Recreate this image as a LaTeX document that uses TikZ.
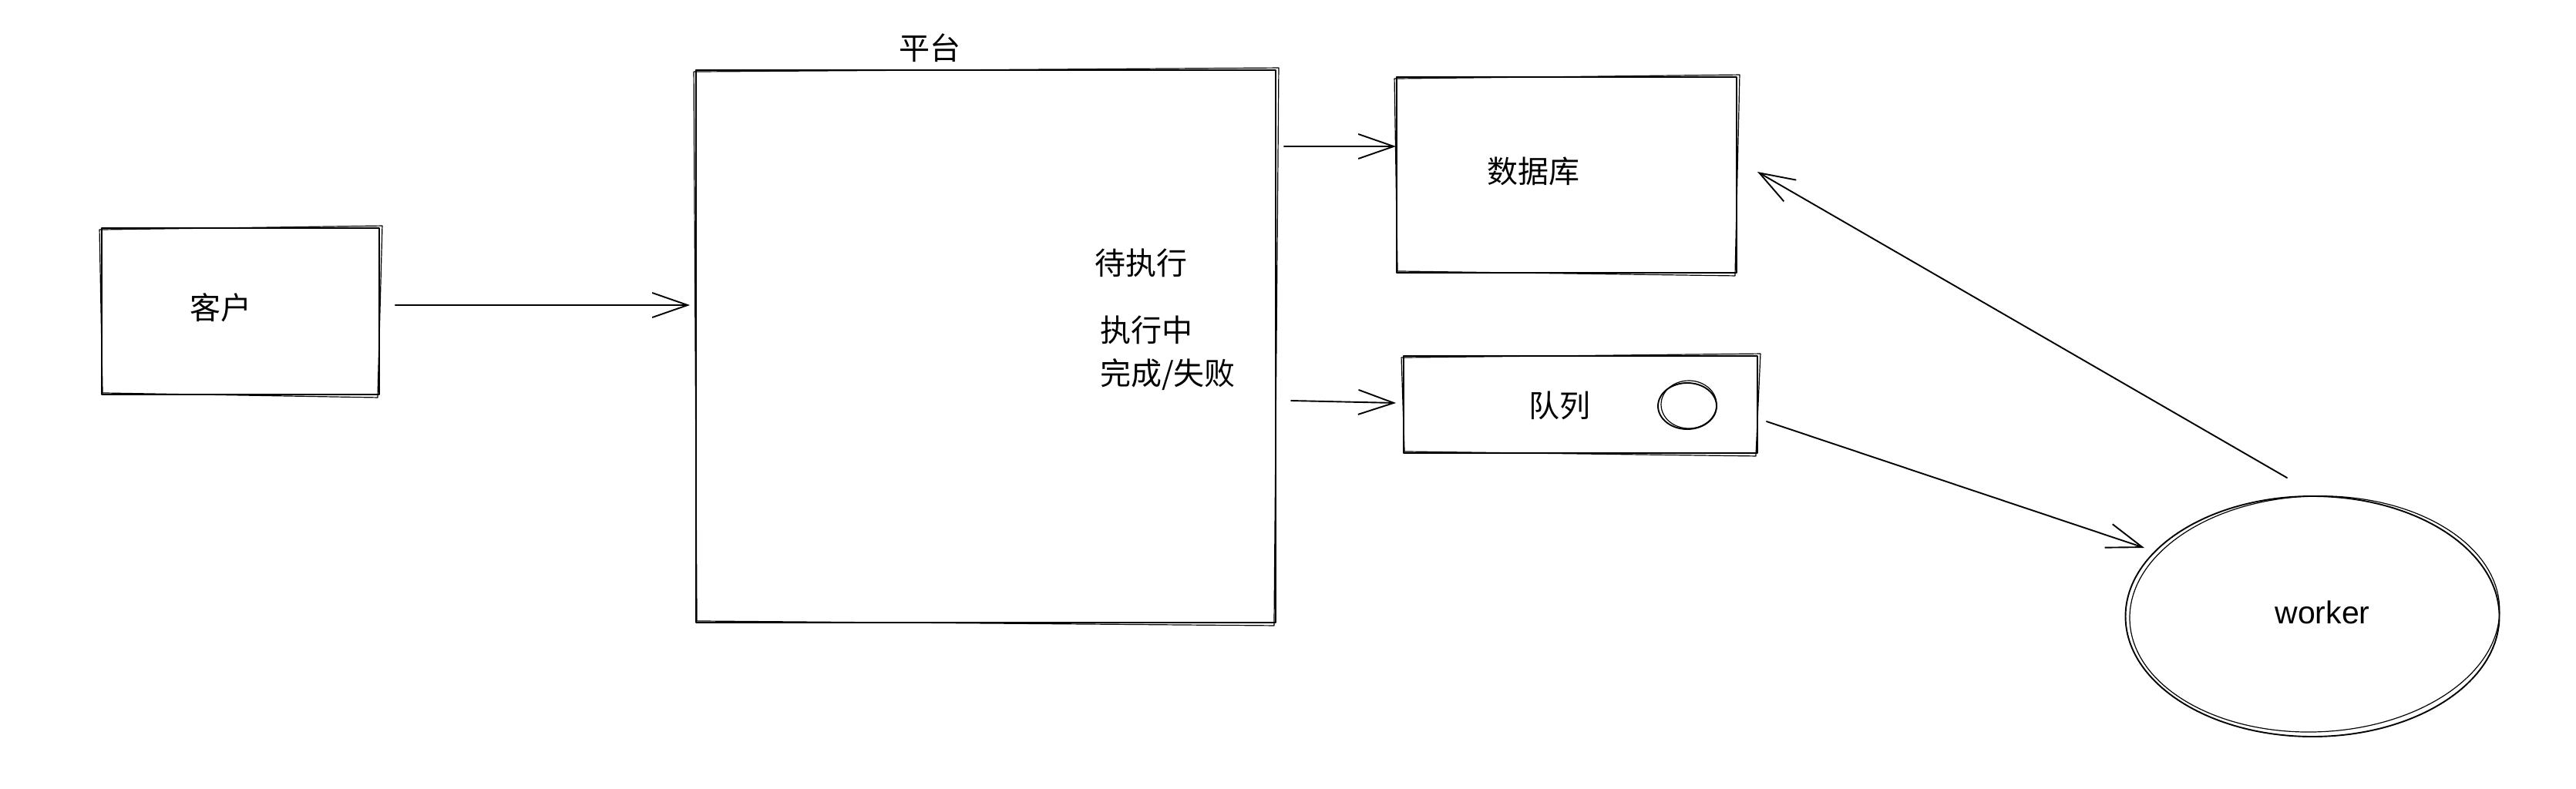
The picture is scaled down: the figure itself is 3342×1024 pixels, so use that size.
\documentclass[tikz,border=0pt]{standalone}
\usepackage{fontspec}
\setmainfont{Liberation Sans}
\newfontfamily\cjk{Noto Sans CJK SC}
\usetikzlibrary{arrows.meta,calc,shapes.geometric}
\newcommand{\roughbox}[1]{\draw[sk,line width=1.2pt] ($(#1.north west)+(-2,3)$) -- ($(#1.north east)+(3,-2)$) -- ($(#1.south east)+(-3,3)$) -- ($(#1.south west)+(2,-3)$) -- cycle;}
\begin{document}
\begin{tikzpicture}[x=1pt,y=-1pt,
  sk/.style={line width=1.9pt, line join=round, line cap=round},
  shapebox/.style={draw, sk, rectangle, inner sep=0pt},
  blob/.style={draw, sk, ellipse, inner sep=0pt},
  lbl/.style={inner sep=0pt, font=\cjk\fontsize{40}{48}\selectfont},
  wlbl/.style={inner sep=0pt, font=\fontsize{41}{48}\selectfont},
  arr/.style={sk, -{Straight Barb[length=46pt,width=32pt]}}]
\fill[white] (0,0) rectangle (3342,1024);
\useasboundingbox (0,0) rectangle (3342,1024);

% shapes
\node[shapebox, minimum width=360pt, minimum height=216pt] (client) at (312,404) {};
\node[shapebox, minimum width=752pt, minimum height=717pt] (platform) at (1279,449.5) {};
\node[shapebox, minimum width=441pt, minimum height=254pt] (db) at (2032.5,227) {};
\node[shapebox, minimum width=459pt, minimum height=126pt] (queue) at (2050.5,525) {};
\node[blob, minimum width=76pt, minimum height=60pt] (dot) at (2189,527) {};
\node[blob, minimum width=485pt, minimum height=312pt] (worker) at (3000,800) {};

% second sketch strokes
\roughbox{client}
\roughbox{platform}
\roughbox{db}
\roughbox{queue}
\draw[sk,line width=1.2pt] ($(dot.center)+(2,-2)$) ellipse [x radius=36pt, y radius=31pt];
\draw[sk,line width=1.2pt,rotate around={2:(worker.center)}] ($(worker.center)+(3,-3)$) ellipse [x radius=240pt, y radius=153pt];

% texts
\node[lbl] (tclient) at (286,399) {客户};
\node[lbl] (tplat) at (1206,62) {平台};
\node[lbl, anchor=west] (t1) at (1420,341) {待执行};
\node[lbl, anchor=west] (t2) at (1427,428) {执行中};
\node[lbl, anchor=west] (t3) at (1427,486) {完成/失败};
\node[lbl] (tdb) at (1989,222) {数据库};
\node[lbl] (tqueue) at (2023,526) {队列};
\node[wlbl] (tworker) at (3013,795) {worker};

% connectors
\coordinate (c1s) at ($(client.east)+(20,-8)$);
\draw[arr] (c1s) -- ($(platform.west |- c1s)+(-7,0)$);
\draw[arr] ($(platform.east |- db.west)+(10,-37)$) -- ($(db.west)+(0,-37)$);
\draw[arr] ($(platform.east)+(19,70.5)$) -- ($(queue.west)+(-9,-2)$);
\draw[arr] ($(queue.east)+(11,22)$) -- ($(worker.center)+(-218,-89)$);
\draw[arr] ($(worker.north)+(-33,-23)$) -- ($(db.east)+(26,-4)$);
\end{tikzpicture}
\end{document}
